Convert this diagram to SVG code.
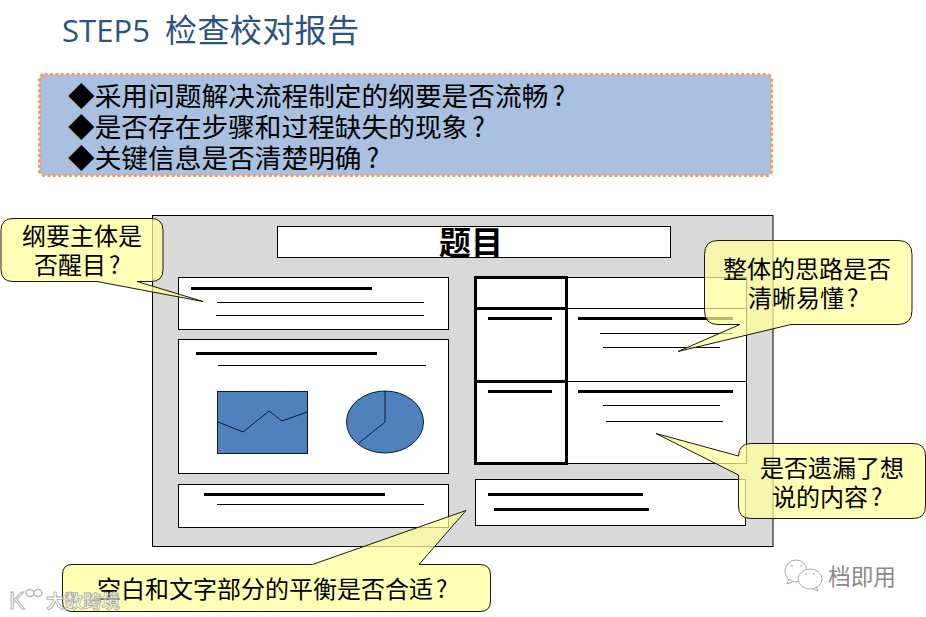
<svg xmlns="http://www.w3.org/2000/svg" width="926" height="617" viewBox="0 0 926 617">
<style>
text{font-family:"Noto Sans CJK SC","Liberation Sans",sans-serif}
.box{fill:#fff;stroke:#000;stroke-width:1}
.thin{stroke:#000;stroke-width:1;fill:none}
.mid{stroke:#000;stroke-width:3;fill:none}
.frame{stroke:#000;stroke-width:3;fill:#fff}
.chart{fill:#4f81bd;stroke:#0b1a33;stroke-width:1}
.call{fill:#ffff99;fill-opacity:.72;stroke:#1a1a00;stroke-width:1;stroke-linejoin:round}
.lab{font-size:24px;fill:#000;text-anchor:start}
.bul{font-size:26.7px;fill:#000}
.wm{fill:#fff;stroke:#aaa;stroke-width:1}
</style>
<rect width="926" height="617" fill="#fff"/>
<g id="title">
<text x="62" y="42" font-size="31" font-weight="500" fill="#2a5382" textLength="88" lengthAdjust="spacingAndGlyphs" style="font-family:'Open Sans','Noto Sans CJK SC',sans-serif">STEP5</text>
<text x="165" y="42" font-size="32" fill="#2a5382" textLength="194">检查校对报告</text>
</g>
<g id="checklist">
<rect x="39.5" y="74.5" width="732" height="101" rx="5" fill="#a9c0e0" stroke="#f79a63" stroke-width="3.2" stroke-dasharray="3 2.4"/>
<text class="bul" x="68" y="106">◆采用问题解决流程制定的纲要是否流畅<tspan dx="4">?</tspan></text>
<text class="bul" x="68" y="137">◆是否存在步骤和过程缺失的现象<tspan dx="4">?</tspan></text>
<text class="bul" x="68" y="168">◆关键信息是否清楚明确<tspan dx="5">?</tspan></text>
</g>
<g id="poster">
<rect x="152.5" y="215.5" width="620.5" height="331" fill="#d9d9d9" stroke="#000"/>
<g id="poster-title">
<rect class="box" x="277.5" y="226.5" width="393" height="31"/>
<text x="471" y="254" font-size="32" font-weight="700" text-anchor="middle" fill="#000">题目</text>
</g>
<g id="left-top">
<rect class="box" x="178.5" y="277.5" width="270" height="52"/>
<path class="mid" d="M191 288.5H372"/>
<path class="thin" d="M217 302.5H424M216 315.5H424"/>
</g>
<g id="left-chart">
<rect class="box" x="178.5" y="339.5" width="270" height="134"/>
<path class="mid" d="M196 353.5H377"/>
<path class="thin" d="M218 365.5H426"/>
<rect class="chart" x="217.5" y="391.5" width="90" height="62"/>
<path class="chart" style="fill:none" d="M218 422L243 432L269 411L282 421L307 412"/>
<ellipse class="chart" cx="385" cy="422" rx="38.5" ry="31"/>
<path class="chart" style="fill:none" d="M385 391V422L359 443"/>
</g>
<g id="left-bottom">
<rect class="box" x="178.5" y="484.5" width="270" height="43"/>
<path class="mid" d="M204 494.5H385"/>
<path class="thin" d="M217 504.5H424"/>
</g>
<g id="right-table">
<rect class="box" x="566.5" y="277.5" width="180" height="186"/>
<path class="thin" d="M566 308.5H746M566 381.5H746"/>
<rect class="frame" x="475.5" y="277.5" width="91" height="186"/>
<path class="mid" d="M475 308.5H567M475 381.5H567"/>
<path class="mid" d="M488 318.5H552M488 391.5H552M578 318.5H733M578 391.5H733"/>
<path class="thin" d="M600 333.5H733M603 347.5H720M603 405.5H720M606 421.5H723"/>
</g>
<g id="right-bottom">
<rect class="box" x="475.5" y="479.5" width="270" height="46"/>
<path class="mid" d="M488 494.5H643M494 509.5H649"/>
</g>
</g>
<g id="connectors"></g>
<g id="callout-title">
<path class="call" d="M13 218.5H151Q163 218.5 163 230.5V269.5Q163 281.5 151 281.5H137L203 301.5L97 281.5H13Q1 281.5 1 269.5V230.5Q1 218.5 13 218.5Z"/>
<text class="lab" x="22" y="245">纲要主体是</text>
<text class="lab" x="34" y="274">否醒目<tspan dx="3">?</tspan></text>
</g>
<g id="callout-logic">
<path class="call" d="M718 240.5H898Q912 240.5 912 254.5V310.5Q912 324.5 898 324.5H791L678 351.5L740 324.5H718Q704.5 324.5 704.5 310.5V254.5Q704.5 240.5 718 240.5Z"/>
<text class="lab" x="723" y="278">整体的思路是否</text>
<text class="lab" x="748" y="307">清晰易懂<tspan dx="3">?</tspan></text>
</g>
<g id="callout-missing">
<path class="call" d="M751 443.5H913Q925.5 443.5 925.5 456V506Q925.5 518.5 913 518.5H751Q738.5 518.5 738.5 506V475L656 433.5L738.5 456Q739 443.5 751 443.5Z"/>
<text class="lab" x="760" y="477">是否遗漏了想</text>
<text class="lab" x="772" y="506">说的内容<tspan dx="3">?</tspan></text>
</g>
<g id="callout-balance">
<path class="call" d="M72 564.5H312.5L466 510.5L419 564.5H480Q490.5 564.5 490.5 575V601Q490.5 611.5 480 611.5H72Q62.5 611.5 62.5 601V575Q62.5 564.5 72 564.5Z"/>
<text class="lab" x="97" y="598">空白和文字部分的平衡是否合适<tspan dx="3">?</tspan></text>
</g>
<g id="watermarks">
<g id="watermark-left">
<text x="9" y="609" font-size="24" fill="#fff" stroke="#b4b4b4" stroke-width="1" style="font-family:'Liberation Sans',sans-serif">K</text>
<ellipse cx="30" cy="593" rx="4" ry="3.5" fill="none" stroke="#bbb" stroke-width="1.6"/>
<ellipse cx="38" cy="593" rx="4" ry="3.5" fill="none" stroke="#bbb" stroke-width="1.6"/>
<text x="46" y="608" font-size="18.5" fill="#fff" fill-opacity=".6" stroke="#aaa" stroke-width=".8" font-weight="700">大数跨境</text>
</g>
<g id="watermark-right">
<path class="wm" d="M789 578L787 584L794 581"/>
<ellipse class="wm" cx="796" cy="571" rx="11" ry="11"/>
<path class="wm" d="M816 586L818 591L811 588"/>
<ellipse class="wm" cx="810" cy="579" rx="12" ry="10"/>
<path d="M791 566h2M800 566h2M805 574h2M813 574h2" stroke="#aaa" fill="none"/>
<text x="828" y="585" font-size="22.7" fill="#8a8a8a">档即用</text>
</g>
</g>
</svg>
